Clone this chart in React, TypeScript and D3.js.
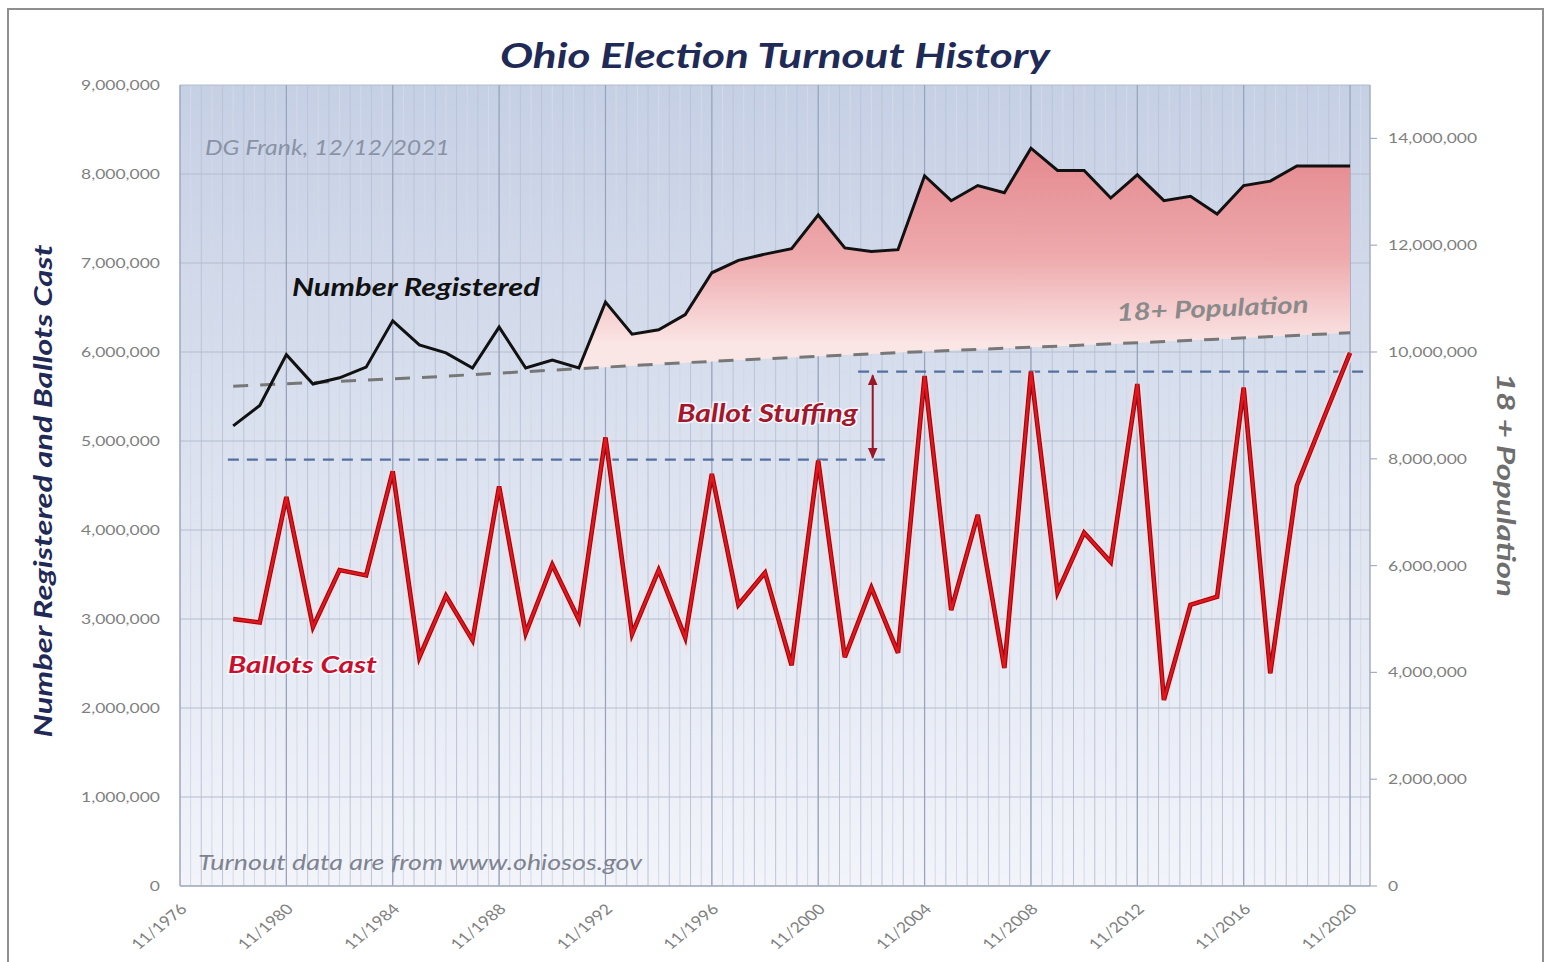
import React from "react";
import * as d3 from "d3";

// ---------- data ----------
const years: number[] = [
  1978, 1979, 1980, 1981, 1982, 1983, 1984, 1985, 1986, 1987, 1988, 1989, 1990, 1991,
  1992, 1993, 1994, 1995, 1996, 1997, 1998, 1999, 2000, 2001, 2002, 2003, 2004, 2005,
  2006, 2007, 2008, 2009, 2010, 2011, 2012, 2013, 2014, 2015, 2016, 2017, 2018, 2019, 2020,
];
const registered: number[] = [
  5.17, 5.4, 5.97, 5.64, 5.71, 5.83, 6.35, 6.08, 5.99, 5.82, 6.28, 5.82, 5.91, 5.82,
  6.56, 6.2, 6.25, 6.42, 6.89, 7.03, 7.1, 7.16, 7.54, 7.17, 7.13, 7.15, 7.98, 7.7,
  7.87, 7.79, 8.29, 8.04, 8.04, 7.73, 7.99, 7.7, 7.75, 7.55, 7.87, 7.92, 8.09, 8.09, 8.09,
].map((v) => v * 1e6);
const ballots: number[] = [
  3.0, 2.96, 4.37, 2.91, 3.55, 3.49, 4.66, 2.57, 3.26, 2.76, 4.49, 2.84, 3.61, 2.99,
  5.04, 2.83, 3.55, 2.79, 4.63, 3.16, 3.52, 2.48, 4.78, 2.57, 3.35, 2.62, 5.73, 3.1,
  4.17, 2.45, 5.78, 3.3, 3.97, 3.64, 5.64, 2.09, 3.16, 3.25, 5.6, 2.39, 4.5, 5.25, 5.99,
].map((v) => v * 1e6);
const popYears: number[] = [1978, 1985, 1990, 1995, 2000, 2005, 2010, 2015, 2020];
const population: number[] = [9.36, 9.52, 9.66, 9.8, 9.92, 10.03, 10.13, 10.24, 10.36].map(
  (v) => v * 1e6
);
const leftTicks: number[] = [0, 1, 2, 3, 4, 5, 6, 7, 8, 9].map((v) => v * 1e6);
const rightTicks: number[] = [0, 2, 4, 6, 8, 10, 12, 14].map((v) => v * 1e6);
const xTickYears: number[] = [1976, 1980, 1984, 1988, 1992, 1996, 2000, 2004, 2008, 2012, 2016, 2020];
const stuffingLines = [
  { value: 4.79e6, from: 1977.8, to: 2002.8 },
  { value: 5.78e6, from: 2001.5, to: 2020.75 },
];
const stuffingArrow = { year: 2002.05, from: 4.79e6, to: 5.76e6 };
const fillStartYear = 1991;

// ---------- layout ----------
const W = 1548;
const H = 962;
const plot = { left: 180, right: 1370, top: 85, bottom: 886 };
const FONT = "Lato, 'Open Sans', sans-serif";
const STRETCH = 1.25;

export default function App() {
  const x = d3.scaleLinear().domain([1976, 2020.75]).range([plot.left, plot.right]);
  const yL = d3.scaleLinear().domain([0, 9e6]).range([plot.bottom, plot.top]);
  const yR = d3.scaleLinear().domain([0, 15e6]).range([plot.bottom, plot.top]);

  const regPts: [number, number][] = years.map((yr, i) => [x(yr), yL(registered[i])]);
  const balPts: [number, number][] = years.map((yr, i) => [x(yr), yL(ballots[i])]);
  const popPts: [number, number][] = popYears.map((yr, i) => [x(yr), yR(population[i])]);

  const line = d3.line<[number, number]>();

  // population (pixel y) at any year, for the fill bottom
  const popAt = (yr: number) => {
    let i = d3.bisectRight(popYears, yr) - 1;
    i = Math.max(0, Math.min(i, popYears.length - 2));
    const t = (yr - popYears[i]) / (popYears[i + 1] - popYears[i]);
    return yR(population[i] + t * (population[i + 1] - population[i]));
  };
  const fillYears = years.filter((y) => y >= fillStartYear);
  const fillData = fillYears.map((yr) => ({
    x: x(yr),
    top: yL(registered[years.indexOf(yr)]),
    bot: popAt(yr),
  }));
  const area = d3
    .area<{ x: number; top: number; bot: number }>()
    .x((d) => d.x)
    .y0((d) => d.bot)
    .y1((d) => d.top);

  // vertical grid lines
  const minor: number[] = [];
  for (let k = 0; k <= 112; k++) {
    const yr = 1976 + k * 0.4;
    if (yr > 2020.75) break;
    minor.push(yr);
  }

  const fmt = d3.format(",");

  return (
    <div style={{ position: "absolute", left: 0, top: 0 }}>
      <svg width={W} height={H} style={{ display: "block", background: "#ffffff" }} fontFamily={FONT}>
        <defs>
          <linearGradient id="bg" x1="0" y1={plot.top} x2="0" y2={plot.bottom} gradientUnits="userSpaceOnUse">
            <stop offset="0" stopColor="#c6d0e5" />
            <stop offset="0.5" stopColor="#dde3f0" />
            <stop offset="1" stopColor="#f2f4fa" />
          </linearGradient>
          <linearGradient id="pink" x1="0" y1="150" x2="0" y2="345" gradientUnits="userSpaceOnUse">
            <stop offset="0" stopColor="#e48a8f" />
            <stop offset="0.55" stopColor="#eeaaad" />
            <stop offset="1" stopColor="#fbe6e6" />
          </linearGradient>
          <marker id="ah" viewBox="0 0 10 10" refX="8" refY="5" markerWidth="6" markerHeight="6" orient="auto-start-reverse">
            <path d="M0,1 L9,5 L0,9 Z" fill="#9b1626" />
          </marker>
        </defs>

        {/* outer frame */}
        <rect x={8} y={9} width={1535} height={980} fill="none" stroke="#8f8f8f" strokeWidth={2} />

        {/* plot background */}
        <rect x={plot.left} y={plot.top} width={plot.right - plot.left} height={plot.bottom - plot.top} fill="url(#bg)" />

        {/* minor vertical grid */}
        {minor.map((yr, i) => (
          <line
            key={"m" + i}
            x1={x(yr)}
            x2={x(yr)}
            y1={plot.top}
            y2={plot.bottom}
            stroke={i % 2 === 0 ? "#bcc4d6" : "#d3d9e6"}
            strokeWidth={1}
          />
        ))}
        {/* horizontal grid */}
        {leftTicks.map((t) => (
          <line key={"h" + t} x1={plot.left} x2={plot.right} y1={yL(t)} y2={yL(t)} stroke="#b4bccd" strokeWidth={1} />
        ))}
        {/* major vertical grid */}
        {xTickYears.map((yr) => (
          <line key={"v" + yr} x1={x(yr)} x2={x(yr)} y1={plot.top} y2={plot.bottom} stroke="#98a3bb" strokeWidth={1.2} />
        ))}
        {/* axis lines */}
        <line x1={plot.left} x2={plot.right} y1={plot.bottom} y2={plot.bottom} stroke="#a6aec0" strokeWidth={1.5} />
        <line x1={plot.right} x2={plot.right} y1={plot.top} y2={plot.bottom} stroke="#a6aec0" strokeWidth={1.5} />

        {/* pink fill */}
        <path d={area(fillData) || ""} fill="url(#pink)" />

        {/* population dashed line */}
        <path d={line(popPts) || ""} fill="none" stroke="#777777" strokeWidth={3} strokeDasharray="15 12" />

        {/* stuffing reference lines */}
        {stuffingLines.map((s, i) => (
          <line
            key={"s" + i}
            x1={x(s.from)}
            x2={x(s.to)}
            y1={yL(s.value)}
            y2={yL(s.value)}
            stroke="#55709e"
            strokeWidth={2.2}
            strokeDasharray="11 8"
          />
        ))}
        <line
          x1={x(stuffingArrow.year)}
          x2={x(stuffingArrow.year)}
          y1={yL(stuffingArrow.from) - 2}
          y2={yL(stuffingArrow.to) + 2}
          stroke="#9b1626"
          strokeWidth={2}
          markerStart="url(#ah)"
          markerEnd="url(#ah)"
        />

        {/* registered line */}
        <path d={line(regPts) || ""} fill="none" stroke="#111111" strokeWidth={3} strokeLinejoin="miter" />

        {/* ballots line */}
        <path d={line(balPts) || ""} fill="none" stroke="#fbdcdc" strokeWidth={8} strokeOpacity={0.8} strokeLinejoin="miter" />
        <path d={line(balPts) || ""} fill="none" stroke="#8c0c16" strokeWidth={4.6} strokeLinejoin="miter" />
        <path d={line(balPts) || ""} fill="none" stroke="#e8141c" strokeWidth={2.4} strokeLinejoin="miter" />

        {/* left axis labels */}
        {leftTicks.map((t) => (
          <text
            key={"lt" + t}
            transform={`translate(160,${yL(t)}) scale(${STRETCH},1)`}
            dy="0.35em"
            textAnchor="end"
            fontSize={14}
            fill="#7f7f7f"
          >
            {fmt(t)}
          </text>
        ))}
        {/* right axis ticks + labels */}
        {rightTicks.map((t) => (
          <g key={"rt" + t}>
            <line x1={plot.right} x2={plot.right + 7} y1={yR(t)} y2={yR(t)} stroke="#a6aec0" strokeWidth={1.2} />
            <text
              transform={`translate(1388,${yR(t)}) scale(${STRETCH},1)`}
              dy="0.35em"
              textAnchor="start"
              fontSize={14}
              fill="#7f7f7f"
            >
              {fmt(t)}
            </text>
          </g>
        ))}
        {/* x axis labels */}
        {xTickYears.map((yr) => (
          <text
            key={"xt" + yr}
            transform={`translate(${x(yr) + 8},${plot.bottom + 24}) scale(1.22,1) rotate(-45)`}
            textAnchor="end"
            fontSize={14.5}
            fill="#808080"
          >
            {"11/" + yr}
          </text>
        ))}

        {/* title */}
        <text
          x={775}
          y={68}
          textAnchor="middle"
          fontSize={35}
          fontWeight="bold"
          fontStyle="italic"
          fill="#1f2a56"
          textLength={550}
          lengthAdjust="spacingAndGlyphs"
        >
          Ohio Election Turnout History
        </text>

        {/* axis titles */}
        <text
          transform="translate(52,491) rotate(-90)"
          textAnchor="middle"
          fontSize={25}
          fontWeight="bold"
          fontStyle="italic"
          fill="#1f2a56"
          textLength={493}
          lengthAdjust="spacingAndGlyphs"
        >
          Number Registered and Ballots Cast
        </text>
        <text
          transform="translate(1497,485) rotate(90)"
          textAnchor="middle"
          fontSize={25}
          fontWeight="bold"
          fontStyle="italic"
          fill="#6e6e6e"
          textLength={224}
          lengthAdjust="spacingAndGlyphs"
        >
          18 + Population
        </text>

        {/* annotations */}
        <text x={205} y={155} fontSize={22} fontStyle="italic" fill="#8a93a6" textLength={245} lengthAdjust="spacingAndGlyphs">
          DG Frank, 12/12/2021
        </text>
        <text
          x={292}
          y={296}
          fontSize={25}
          fontWeight="bold"
          fontStyle="italic"
          fill="#111111"
          textLength={248}
          lengthAdjust="spacingAndGlyphs"
        >
          Number Registered
        </text>
        <text
          transform="translate(1117,321) rotate(-2.5)"
          fontSize={24}
          fontWeight="bold"
          fontStyle="italic"
          fill="#8a8a8a"
          textLength={192}
          lengthAdjust="spacingAndGlyphs"
        >
          18+ Population
        </text>
        <text
          x={677}
          y={422}
          fontSize={24}
          fontWeight="bold"
          fontStyle="italic"
          fill="#a3162c"
          stroke="#ffffff"
          strokeOpacity={0.7}
          strokeWidth={3}
          paintOrder="stroke"
          textLength={181}
          lengthAdjust="spacingAndGlyphs"
        >
          Ballot Stuffing
        </text>
        <text
          x={228}
          y={673}
          fontSize={23}
          fontWeight="bold"
          fontStyle="italic"
          fill="#c8102e"
          stroke="#ffffff"
          strokeOpacity={0.75}
          strokeWidth={3}
          paintOrder="stroke"
          textLength={149}
          lengthAdjust="spacingAndGlyphs"
        >
          Ballots Cast
        </text>
        <text x={198} y={870} fontSize={22} fontStyle="italic" fill="#7f8390" textLength={444} lengthAdjust="spacingAndGlyphs">
          Turnout data are from www.ohiosos.gov
        </text>
      </svg>
    </div>
  );
}
